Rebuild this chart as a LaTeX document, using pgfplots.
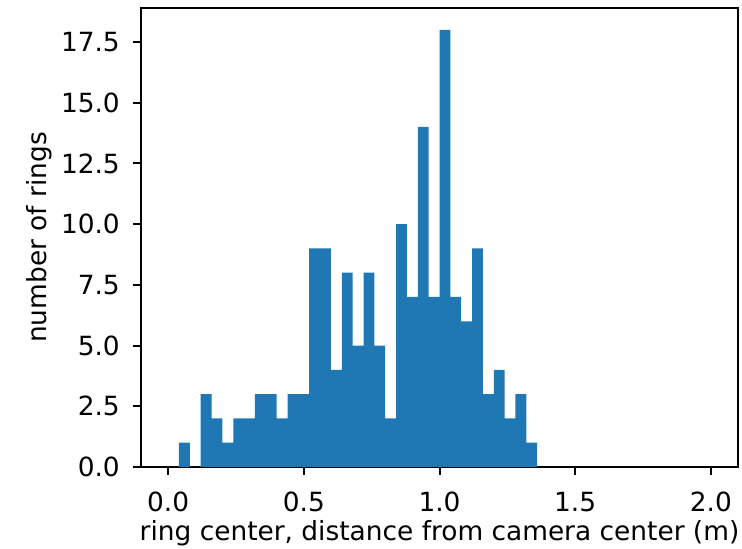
\documentclass[border=0pt]{standalone}
\usepackage{pgfplots}
\pgfplotsset{compat=1.18}
\usepackage{fontspec}
\setmainfont{DejaVu Sans}
\definecolor{mplblue}{HTML}{1F77B4}
\begin{document}
\fontsize{13.2pt}{16pt}\selectfont
\begin{tikzpicture}
\begin{axis}[
  scale only axis, width=298.5pt, height=229.5pt,
  xmin=-0.1, xmax=2.1, ymin=0, ymax=18.9,
  xtick={0,0.5,1,1.5,2}, ytick={0,2.5,5,7.5,10,12.5,15,17.5},
  axis line style={line width=1pt},
  tick style={black, line width=1pt},
  major tick length=4pt, tick align=outside,
  xtick pos=left, ytick pos=left,
  xticklabel style={yshift=-4pt},
  yticklabel style={xshift=-2pt},
  /pgf/number format/.cd, fixed, fixed zerofill, precision=1, assume math mode=true,
  /pgfplots/.cd,
  xlabel={ring center, distance from camera center (m)},
  ylabel={number of rings},
  xlabel style={at={(axis description cs:0.5,0)}, anchor=base, yshift=-37pt},
  ylabel style={at={(axis description cs:0,0.5)}, anchor=center, yshift=51pt},
]
\addplot[ybar interval, fill=mplblue, draw=none] coordinates {
(0,0) (0.04,1) (0.08,0) (0.12,3) (0.16,2) (0.20,1) (0.24,2) (0.28,2) (0.32,3) (0.36,3)
(0.40,2) (0.44,3) (0.48,3) (0.52,9) (0.56,9) (0.60,4) (0.64,8) (0.68,5) (0.72,8) (0.76,5)
(0.80,2) (0.84,10) (0.88,7) (0.92,14) (0.96,7) (1.00,18) (1.04,7) (1.08,6) (1.12,9) (1.16,3)
(1.20,4) (1.24,2) (1.28,3) (1.32,1) (1.36,0)
};
\end{axis}
\pgfresetboundingbox
\path ([shift={(-70.5pt,-41pt)}]current axis.south west) rectangle ([shift={(2pt,4pt)}]current axis.north east);
\end{tikzpicture}
\end{document}
